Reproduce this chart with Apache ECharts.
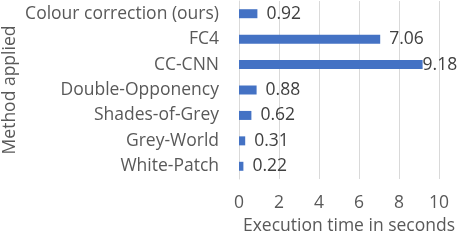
<!DOCTYPE html>
<html><head><meta charset="utf-8">
<script src="https://cdn.jsdelivr.net/npm/echarts@6/dist/echarts.min.js"></script>
<style>html,body{margin:0;padding:0;background:#fff}#c{width:460px;height:240px}</style>
</head><body><div id="c"></div>
<script>
const categories = ["White-Patch", "Grey-World", "Shades-of-Grey", "Double-Opponency", "CC-CNN", "FC4", "Colour correction (ours)"];
const times = [0.22, 0.31, 0.62, 0.88, 9.18, 7.06, 0.92];
const xTicks = [0, 2, 4, 6, 8, 10];
const xTitle = "Execution time in seconds";
const yTitle = "Method applied";

const font = "'Open Sans', 'Noto Sans', sans-serif";
const fs = 17.5;
const chart = echarts.init(document.getElementById('c'), null, {renderer: 'canvas'});
chart.setOption({
  animation: false,
  grid: {left: 238, right: 21, top: 1, bottom: 61},
  xAxis: {
    type: 'value', min: xTicks[0], max: xTicks[xTicks.length - 1], interval: 2,
    axisLine: {show: false}, axisTick: {show: false},
    splitLine: {lineStyle: {color: '#d9d9d9', width: 1}},
    axisLabel: {color: '#595959', fontSize: fs, fontFamily: font, margin: 15},
    name: xTitle, nameLocation: 'middle', nameGap: 36,
    nameTextStyle: {color: '#595959', fontSize: fs, fontFamily: font, padding: [0, 0, 0, 20]}
  },
  yAxis: {
    type: 'category', data: categories,
    axisLine: {show: true, lineStyle: {color: '#d9d9d9'}}, axisTick: {show: false},
    axisLabel: {color: '#595959', fontSize: fs, fontFamily: font, margin: 20},
    name: yTitle, nameLocation: 'middle', nameGap: 220, nameRotate: 90,
    nameTextStyle: {color: '#595959', fontSize: fs, fontFamily: font}
  },
  series: [{
    type: 'bar', barWidth: 9,
    data: times.map((v, i) => ({
      value: v,
      label: {distance: v > 9 ? 0 : 9}
    })),
    itemStyle: {color: '#4472C4'},
    label: {show: true, position: 'right', color: '#404040', fontSize: fs, fontFamily: font,
      formatter: p => p.value.toFixed(2)}
  }]
});
</script></body></html>
